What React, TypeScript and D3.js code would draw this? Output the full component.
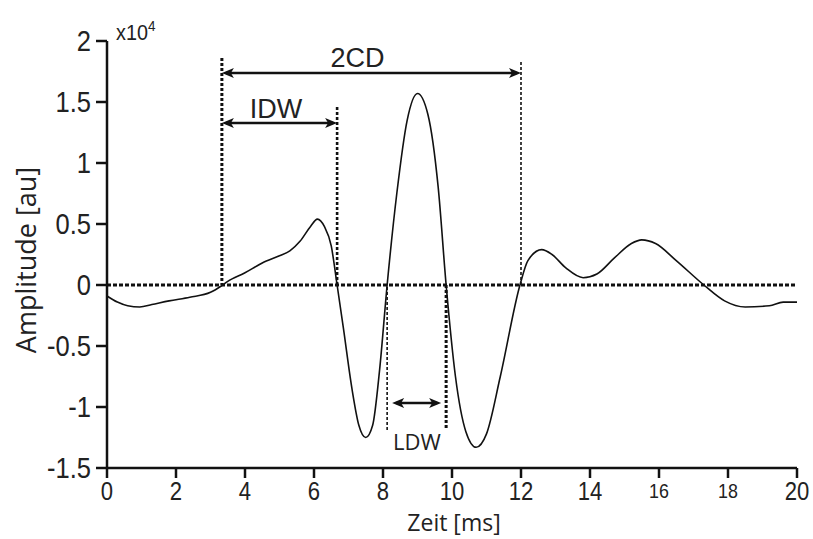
import React from "react";
import * as d3 from "d3";

const timeMs = [0, 0.3, 0.6, 0.95, 1.3, 1.8, 2.4, 3.0, 3.3, 3.5, 4.0, 4.5, 5.0, 5.3, 5.6, 5.9, 6.1, 6.3, 6.5, 6.67, 6.85, 7.1, 7.3, 7.5, 7.7, 7.9, 8.12, 8.4, 8.7, 9.0, 9.3, 9.6, 9.83, 10.1, 10.4, 10.7, 11.0, 11.4, 11.97, 12.2, 12.6, 12.9, 13.3, 13.8, 14.2, 14.7, 15.2, 15.5, 15.9, 16.5, 17.3, 17.9, 18.5, 19.2, 19.6, 20];
const amplitude = [-0.09, -0.14, -0.17, -0.18, -0.16, -0.13, -0.10, -0.06, -0.01, 0.03, 0.10, 0.18, 0.24, 0.28, 0.36, 0.48, 0.54, 0.48, 0.32, 0.0, -0.35, -0.85, -1.15, -1.25, -1.15, -0.7, 0.0, 0.75, 1.35, 1.57, 1.40, 0.80, 0.0, -0.75, -1.20, -1.33, -1.22, -0.75, 0.0, 0.2, 0.29, 0.25, 0.14, 0.06, 0.09, 0.22, 0.34, 0.37, 0.34, 0.2, 0.0, -0.13, -0.18, -0.17, -0.14, -0.14];

const xTicks = [0, 2, 4, 6, 8, 10, 12, 14, 16, 18, 20];
const yTicks = [2, 1.5, 1, 0.5, 0, -0.5, -1, -1.5];
const yTickLabels = ["2", "1.5", "1", "0.5", "0", "-0.5", "-1", "-1.5"];

// annotation times (ms)
const onsetT = 3.33;
const idwEndT = 6.67;
const cdEndT = 12.0;
const ldwStartT = 8.12;
const ldwEndT = 9.83;

export default function App() {
  const x = d3.scaleLinear().domain([0, 20]).range([107, 797]);
  const y = d3.scaleLinear().domain([-1.5, 2]).range([468, 41]);
  const data = timeMs.map((t, i) => [t, amplitude[i]] as [number, number]);
  const line = d3
    .line<[number, number]>()
    .x((d) => x(d[0]))
    .y((d) => y(d[1]))
    .curve(d3.curveMonotoneX);

  const arrowHead = (px: number, py: number, dir: number) => {
    const L = 12, W = 5;
    return `M${px},${py} L${px - dir * L},${py - W} L${px - dir * (L - 3)},${py} L${px - dir * L},${py + W} Z`;
  };

  const doubleArrow = (x1: number, x2: number, yy: number, key: string) => (
    <g key={key}>
      <line x1={x1 + 4} x2={x2 - 4} y1={yy} y2={yy} stroke="#111" strokeWidth={2.5} />
      <path d={arrowHead(x1, yy, -1)} fill="#111" />
      <path d={arrowHead(x2, yy, 1)} fill="#111" />
    </g>
  );

  const tickFont = "'Liberation Sans', Arial, sans-serif";
  const labelFont = "'Open Sans', 'Liberation Sans', sans-serif";
  const y0 = y(0);

  return (
    <svg width={813} height={539} style={{ position: "absolute", left: 0, top: 0, background: "#fff" }}>
      <rect width={813} height={539} fill="#fff" />
      {/* zero line */}
      <line x1={x(0)} x2={x(20)} y1={y0} y2={y0} stroke="#111" strokeWidth={3} strokeDasharray="4 2" />

      {/* vertical dotted lines */}
      <line x1={x(onsetT)} x2={x(onsetT)} y1={58} y2={y0} stroke="#111" strokeWidth={3} strokeDasharray="3 2" />
      <line x1={x(cdEndT)} x2={x(cdEndT)} y1={62} y2={y0} stroke="#111" strokeWidth={1.6} strokeDasharray="3 2" />
      <line x1={x(idwEndT)} x2={x(idwEndT)} y1={107} y2={y0} stroke="#111" strokeWidth={2.6} strokeDasharray="3 2" />
      <line x1={x(ldwStartT)} x2={x(ldwStartT)} y1={y0 + 2} y2={430} stroke="#111" strokeWidth={1.6} strokeDasharray="3 2" />
      <line x1={x(ldwEndT)} x2={x(ldwEndT)} y1={y0} y2={430} stroke="#111" strokeWidth={3} strokeDasharray="3 2" />

      {/* signal */}
      <path d={line(data) || ""} fill="none" stroke="#111" strokeWidth={1.6} />

      {/* arrows */}
      {doubleArrow(x(onsetT), x(cdEndT), 73, "cd")}
      {doubleArrow(x(onsetT), x(idwEndT), 123, "idw")}
      {doubleArrow(x(ldwStartT) + 5, x(ldwEndT) - 5, 403, "ldw")}

      <text x={(x(onsetT) + x(cdEndT)) / 2 - 14} y={67} fontSize={27} fontFamily={tickFont} fill="#222" textAnchor="middle">2CD</text>
      <text x={276} y={118} fontSize={27} fontFamily={tickFont} fill="#222" textAnchor="middle">IDW</text>
      <text x={417} y={450} fontSize={22} fontFamily={labelFont} fill="#222" textAnchor="middle">LDW</text>

      {/* axes */}
      <line x1={107} x2={107} y1={y(2)} y2={y(-1.5) + 1} stroke="#111" strokeWidth={2.5} />
      <line x1={106} x2={x(20)} y1={y(-1.5)} y2={y(-1.5)} stroke="#111" strokeWidth={2.5} />
      {yTicks.map((v, i) => (
        <g key={"y" + v}>
          <line x1={96} x2={107} y1={y(v)} y2={y(v)} stroke="#111" strokeWidth={2.5} />
          <text transform={`translate(91,${y(v) + 10}) scale(0.88,1)`} fontSize={29} fontFamily={tickFont} fill="#222" textAnchor="end">{yTickLabels[i]}</text>
        </g>
      ))}
      {xTicks.map((v) => {
        const small = v === 16 || v === 18;
        return (
          <g key={"x" + v}>
            <line x1={x(v)} x2={x(v)} y1={y(-1.5)} y2={y(-1.5) + 10} stroke="#111" strokeWidth={2.5} />
            <text transform={`translate(${x(v)},${small ? 498 : 500}) scale(0.85,1)`} fontSize={small ? 21 : 26} fontFamily={tickFont} fill="#222" textAnchor="middle">{v}</text>
          </g>
        );
      })}
      <text transform="translate(116,40) scale(0.9,1)" fontSize={22} fontFamily={tickFont} fill="#222">x10<tspan dy={-9} fontSize={15}>4</tspan></text>

      <text x={454} y={531} fontSize={23} fontFamily={labelFont} fill="#222" textAnchor="middle">Zeit [ms]</text>
      <text transform={`translate(36,${260}) rotate(-90)`} fontSize={27} fontFamily={labelFont} fill="#222" textAnchor="middle">Amplitude [au]</text>
    </svg>
  );
}
